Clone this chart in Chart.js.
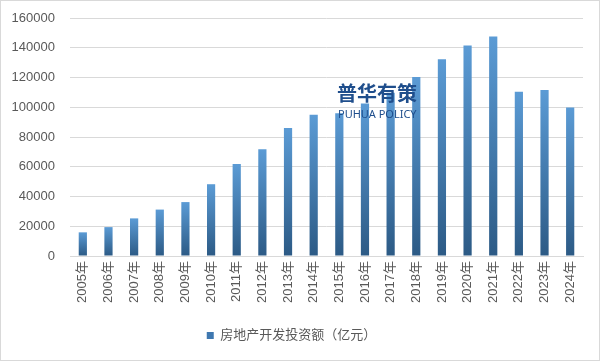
<!DOCTYPE html>
<html>
<head>
<meta charset="utf-8">
<script src="https://cdn.jsdelivr.net/npm/chart.js@4"></script>
<style>
  html, body { margin: 0; padding: 0; background: #fff; }
  #wrap { width: 600px; height: 361px; }
</style>
</head>
<body>
<div id="wrap"><canvas id="chart"></canvas></div>
<script>
// 房地产开发投资额 2005-2024 (亿元)
const years = ['2005年', '2006年', '2007年', '2008年', '2009年', '2010年', '2011年', '2012年', '2013年', '2014年',
  '2015年', '2016年', '2017年', '2018年', '2019年', '2020年', '2021年', '2022年', '2023年', '2024年'];
const investment = [15909, 19423, 25289, 31203, 36242, 48259, 61797, 71804, 86013, 95036,
  95979, 102581, 109799, 120264, 132194, 141443, 147602, 110500, 111600, 99800];
const seriesLabel = '房地产开发投资额（亿元）';

const fontFamily = "'Liberation Sans', 'Noto Sans CJK SC', sans-serif";
const textColor = '#595959';
const gridColor = '#d9d9d9';

// per-bar vertical gradient, light on top, dark at the base
function barGradient(ctx) {
  const chart = ctx.chart;
  const area = chart.chartArea;
  if (!area || ctx.raw == null) return '#4a86c5';
  const y = chart.scales.y;
  const top = y.getPixelForValue(ctx.raw);
  const base = y.getPixelForValue(0);
  const g = chart.ctx.createLinearGradient(0, top, 0, base);
  g.addColorStop(0, '#5b9bd5');
  g.addColorStop(1, '#2c5a85');
  return g;
}

const frame = {
  id: 'frame',
  beforeDraw(chart) {
    const c = chart.ctx;
    c.save();
    c.fillStyle = '#fff';
    c.fillRect(0, 0, chart.width, chart.height);
    c.strokeStyle = '#d9d9d9';
    c.lineWidth = 1;
    c.strokeRect(0.5, 0.5, chart.width - 1, chart.height - 1);
    c.restore();
  }
};

const watermark = {
  id: 'watermark',
  afterDatasetsDraw(chart) {
    const c = chart.ctx;
    c.save();
    c.fillStyle = '#1f4e8c';
    c.textAlign = 'left';
    c.textBaseline = 'middle';
    c.font = "bold 20px 'Noto Sans CJK SC', sans-serif";
    c.fillText('普华有策', 337, 93);
    c.font = "11px 'Noto Sans', sans-serif";
    c.fillText('PUHUA POLICY', 338, 115);
    c.restore();
  }
};

new Chart(document.getElementById('chart'), {
  type: 'bar',
  data: {
    labels: years,
    datasets: [{
      label: seriesLabel,
      data: investment,
      backgroundColor: barGradient,
      borderWidth: 0,
      barPercentage: 0.32,
      categoryPercentage: 1.0
    }]
  },
  options: {
    responsive: true,
    maintainAspectRatio: false,
    animation: false,
    layout: { padding: { top: 18, right: 17, bottom: 9, left: 0 } },
    plugins: {
      legend: {
        position: 'bottom',
        labels: {
          color: textColor,
          font: { family: fontFamily, size: 13 },
          boxWidth: 7,
          boxHeight: 7,
          padding: 10,
          generateLabels(chart) {
            return [{
              text: seriesLabel,
              fillStyle: '#3f78b0',
              strokeStyle: '#3f78b0',
              lineWidth: 0,
              fontColor: textColor,
              datasetIndex: 0
            }];
          }
        }
      },
      tooltip: { enabled: false }
    },
    scales: {
      x: {
        grid: { display: false, drawTicks: false },
        border: { display: true, color: gridColor },
        ticks: {
          color: textColor,
          font: { family: fontFamily, size: 13 },
          maxRotation: 90,
          minRotation: 90,
          padding: 5,
          autoSkip: false
        },
        afterFit(scale) { scale.height = 63; }
      },
      y: {
        min: 0,
        max: 160000,
        grid: { color: gridColor, drawTicks: false },
        border: { display: false },
        ticks: {
          stepSize: 20000,
          color: textColor,
          font: { family: fontFamily, size: 13 },
          padding: 15,
          callback: (v) => String(v)
        },
        afterFit(scale) {
          scale.width = 70;
          scale.paddingTop = 8;
          scale.paddingBottom = 8;
        }
      }
    }
  },
  plugins: [frame, watermark]
});
</script>
</body>
</html>
